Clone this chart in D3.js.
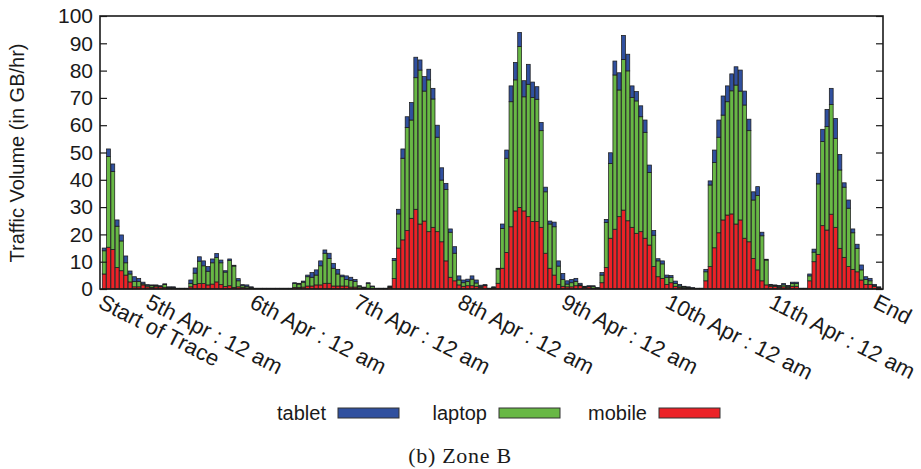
<!DOCTYPE html>
<html>
<head>
<meta charset="utf-8">
<script src="https://cdn.jsdelivr.net/npm/d3@7"></script>
<style>
body { margin: 0; background: #fff; }
text { font-family: "Liberation Sans", Arial, sans-serif; fill: #1a1a1a; }
</style>
</head>
<body>
<svg id="chart" width="921" height="469"></svg>
<script>
// hourly traffic (GB/hr), one value per hour from start of trace
const mobile = [
  5.5, 15.3, 14.5, 7.9, 6.7, 5.1, 2.6, 0.8, 0.8, 1.5, 0.8, 0.6,
  0.8, 0.8, 0.5, 0.3, 0.3, 0.1, 0.1, 0.1, 0.8, 1.6, 2.0, 2.0,
  1.5, 1.8, 2.6, 1.6, 0.9, 1.2, 0.6, 0.8, 0.5, 0.4, 0.3, 0.1,
  0.1, 0.1, 0.1, 0.1, 0.1, 0.1, 0.1, 0.1, 0.6, 0.5, 0.7, 1.1,
  1.1, 1.5, 1.5, 2.1, 2.1, 1.1, 1.1, 1.1, 1.1, 0.7, 0.7, 0.4,
  0.3, 0.3, 0.3, 0.1, 0.1, 0.1, 0.5, 3.8, 15.0, 18.0, 21.4, 25.9,
  29.2, 23.8, 24.9, 21.0, 22.6, 21.0, 17.3, 10.3, 4.3, 3.0, 1.5, 1.0,
  1.2, 1.2, 1.0, 0.6, 1.2, 0.1, 0.4, 2.1, 7.6, 13.4, 22.8, 28.6,
  29.9, 28.6, 26.5, 24.7, 24.7, 22.6, 13.1, 7.6, 5.1, 1.7, 1.0, 0.8,
  0.8, 1.2, 1.2, 0.5, 0.8, 0.3, 0.2, 2.3, 7.9, 18.6, 21.9, 26.5,
  28.9, 25.0, 22.6, 20.4, 21.0, 18.6, 16.1, 8.2, 4.5, 3.9, 1.7, 2.3,
  1.0, 0.6, 0.3, 0.3, 0.2, 0.1, 0.1, 3.0, 8.2, 15.1, 20.6, 25.3,
  27.1, 27.5, 23.8, 25.3, 18.6, 17.3, 11.2, 7.0, 3.0, 1.5, 1.0, 1.0,
  0.6, 0.8, 0.5, 1.0, 1.0, 0.1, 0.1, 3.0, 10.0, 12.7, 23.2, 21.6,
  27.4, 22.6, 14.9, 11.6, 8.2, 7.2, 6.3, 3.3, 1.7, 1.7, 1.0, 0.4
]
const laptop = [
  8.5, 33.2, 28.5, 15.1, 10.9, 4.5, 2.9, 1.9, 1.9, 0.4, 0.4, 0.6,
  0.4, 0.2, 1.1, 0.3, 0.3, 0.1, 0.1, 0.1, 1.2, 4.2, 8.2, 6.5,
  5.0, 7.8, 8.9, 8.0, 5.3, 9.2, 7.8, 2.2, 0.7, 0.6, 0.3, 0.1,
  0.1, 0.1, 0.1, 0.1, 0.1, 0.1, 0.1, 0.1, 1.4, 1.3, 1.8, 3.4,
  3.2, 3.6, 7.0, 11.0, 9.1, 6.5, 4.4, 3.4, 2.4, 2.5, 2.1, 0.6,
  0.2, 1.7, 0.6, 0.1, 0.1, 0.1, 0.3, 6.6, 12.5, 29.9, 37.8, 36.0,
  48.2, 56.4, 47.6, 55.6, 47.0, 34.6, 22.6, 26.2, 16.5, 10.1, 1.8, 1.3,
  1.5, 2.4, 1.2, 0.4, 0.2, 0.1, 0.2, 5.2, 14.6, 34.5, 45.8, 48.0,
  58.9, 41.8, 48.5, 45.5, 44.8, 35.4, 22.5, 16.2, 17.7, 6.7, 2.5, 1.0,
  1.5, 1.6, 0.3, 0.3, 0.2, 0.6, 0.2, 2.8, 16.5, 27.4, 56.5, 46.4,
  55.2, 54.9, 47.6, 48.5, 42.1, 38.8, 26.6, 11.5, 5.8, 5.3, 2.6, 2.0,
  1.0, 0.5, 0.4, 0.2, 0.1, 0.1, 0.1, 3.3, 29.9, 31.2, 35.0, 38.4,
  41.5, 45.1, 50.9, 47.2, 48.8, 40.7, 21.4, 27.2, 16.5, 9.1, 0.4, 0.2,
  0.4, 0.7, 0.5, 1.0, 1.0, 0.1, 0.1, 1.8, 3.5, 25.8, 30.8, 37.9,
  40.2, 32.6, 28.7, 25.7, 21.4, 13.4, 8.6, 3.7, 1.8, 1.3, 0.2, 0.2
]
const tablet = [
  1.0, 2.8, 2.8, 2.3, 2.2, 2.5, 1.1, 1.8, 1.2, 0.6, 0.4, 0.3,
  0.3, 0.2, 0.3, 0.2, 0.2, 0.1, 0.1, 0.1, 1.3, 1.9, 1.6, 1.8,
  1.7, 1.4, 1.5, 1.0, 0.5, 0.6, 0.3, 0.8, 0.4, 0.5, 0.2, 0.1,
  0.1, 0.1, 0.1, 0.1, 0.1, 0.1, 0.1, 0.1, 0.3, 0.3, 0.4, 0.6,
  1.7, 1.9, 1.8, 1.2, 1.9, 1.8, 1.7, 0.6, 1.3, 1.1, 0.7, 0.2,
  0.2, 0.3, 0.2, 0.1, 0.1, 0.1, 0.3, 0.8, 1.7, 3.4, 3.9, 6.4,
  7.5, 3.7, 5.3, 3.9, 3.9, 4.4, 4.5, 2.2, 1.2, 2.4, 1.5, 1.0,
  0.9, 1.2, 1.1, 0.4, 0.2, 0.1, 0.2, 0.3, 1.6, 3.0, 5.8, 6.4,
  5.2, 5.9, 7.3, 5.6, 4.6, 3.0, 1.7, 1.1, 1.7, 1.9, 2.2, 1.2,
  1.2, 1.1, 0.6, 0.2, 0.2, 0.3, 0.1, 0.9, 1.1, 3.9, 5.1, 6.3,
  8.8, 6.1, 4.2, 3.4, 4.0, 4.5, 2.7, 1.7, 0.8, 1.1, 0.8, 0.6,
  0.9, 0.6, 0.3, 0.3, 0.2, 0.1, 0.1, 0.9, 1.5, 4.6, 6.3, 7.0,
  5.8, 6.2, 6.7, 7.7, 5.1, 4.2, 3.0, 3.3, 1.3, 0.3, 0.3, 0.3,
  0.3, 0.5, 0.3, 0.5, 0.5, 0.1, 0.1, 0.7, 1.1, 3.9, 4.5, 6.3,
  5.9, 7.3, 5.7, 1.6, 3.0, 1.4, 1.5, 1.8, 1.0, 0.9, 0.5, 0.2
]

const yTicks = [0, 10, 20, 30, 40, 50, 60, 70, 80, 90, 100]
const dayLabels = ["Start of Trace", "5th Apr : 12 am", "6th Apr : 12 am", "7th Apr : 12 am",
  "8th Apr : 12 am", "9th Apr : 12 am", "10th Apr : 12 am", "11th Apr : 12 am", "End"]
const dayHours = [0, 11, 35, 59, 83, 107, 131, 155, 179]
const legendNames = ["tablet", "laptop", "mobile"]
const colors = { tablet: "#30509f", laptop: "#68b845", mobile: "#ec2227" }

var svg = d3.select("#chart")
// plot box (window.top is taken, so keep these in an object)
var box = { l: 100, r: 883, t: 16, b: 289 }

var rows = mobile.map((m, i) => ({ hour: i, mobile: m, laptop: laptop[i], tablet: tablet[i] }))
var layers = d3.stack().keys(["mobile", "laptop", "tablet"])(rows)

var x = d3.scaleLinear().domain([-0.46, 180.46]).range([box.l, box.r])
var y = d3.scaleLinear().domain([0, 100]).range([box.b, box.t])
var bw = x(1) - x(0)

// stacked bars
svg.append("g").selectAll("g")
  .data(layers)
  .join("g")
  .attr("fill", d => colors[d.key])
  .selectAll("rect")
  .data(d => d)
  .join("rect")
  .attr("x", d => x(d.data.hour) + 0.25)
  .attr("width", bw - 0.5)
  .attr("y", d => y(d[1]))
  .attr("height", d => Math.max(0.1, y(d[0]) - y(d[1])))
  .attr("stroke", "#1c1c1c")
  .attr("stroke-width", 0.75)

// axes, ticks pointing inward
var yl = svg.append("g").attr("transform", `translate(${box.l},0)`)
  .call(d3.axisLeft(y).tickValues(yTicks).tickSize(-7).tickPadding(7))
yl.select(".domain").remove()
yl.selectAll("text").attr("font-size", 21).attr("font-family", "Liberation Sans, Arial, sans-serif").attr("fill", "#1a1a1a")
yl.selectAll("line").attr("stroke", "#1a1a1a").attr("stroke-width", 1.2)

var yr = svg.append("g").attr("transform", `translate(${box.r},0)`)
  .call(d3.axisRight(y).tickValues(yTicks).tickSize(-7).tickFormat(""))
yr.select(".domain").remove()
yr.selectAll("line").attr("stroke", "#1a1a1a").attr("stroke-width", 1.2)

svg.append("rect")
  .attr("x", box.l).attr("y", box.t)
  .attr("width", box.r - box.l).attr("height", box.b - box.t)
  .attr("fill", "none").attr("stroke", "#1a1a1a").attr("stroke-width", 1.6)

// rotated day labels
svg.append("g").selectAll("text")
  .data(dayLabels)
  .join("text")
  .attr("transform", (d, i) => `translate(${x(dayHours[i]) - 5},307) rotate(27)`)
  .attr("font-size", 22)
  .text(d => d)

svg.append("text")
  .attr("transform", "translate(24,153) rotate(-90)")
  .attr("text-anchor", "middle")
  .attr("font-size", 20)
  .text("Traffic Volume (in GB/hr)")

// legend
var legendX = [326, 487, 647]
var lg = svg.append("g").selectAll("g")
  .data(legendNames)
  .join("g")
  .attr("transform", (d, i) => `translate(${legendX[i]},0)`)
lg.append("text")
  .attr("x", 0).attr("y", 420)
  .attr("text-anchor", "end")
  .attr("font-size", 20)
  .text(d => d)
lg.append("rect")
  .attr("x", 12).attr("y", 408)
  .attr("width", 61).attr("height", 10)
  .attr("fill", d => colors[d])
  .attr("stroke", "#333").attr("stroke-width", 1)

svg.append("text")
  .attr("x", 460).attr("y", 463)
  .attr("text-anchor", "middle")
  .attr("font-size", 22)
  .attr("letter-spacing", 0.7)
  .style("font-family", "'Liberation Serif', 'DejaVu Serif', serif")
  .text("(b) Zone B")
</script>
</body>
</html>
